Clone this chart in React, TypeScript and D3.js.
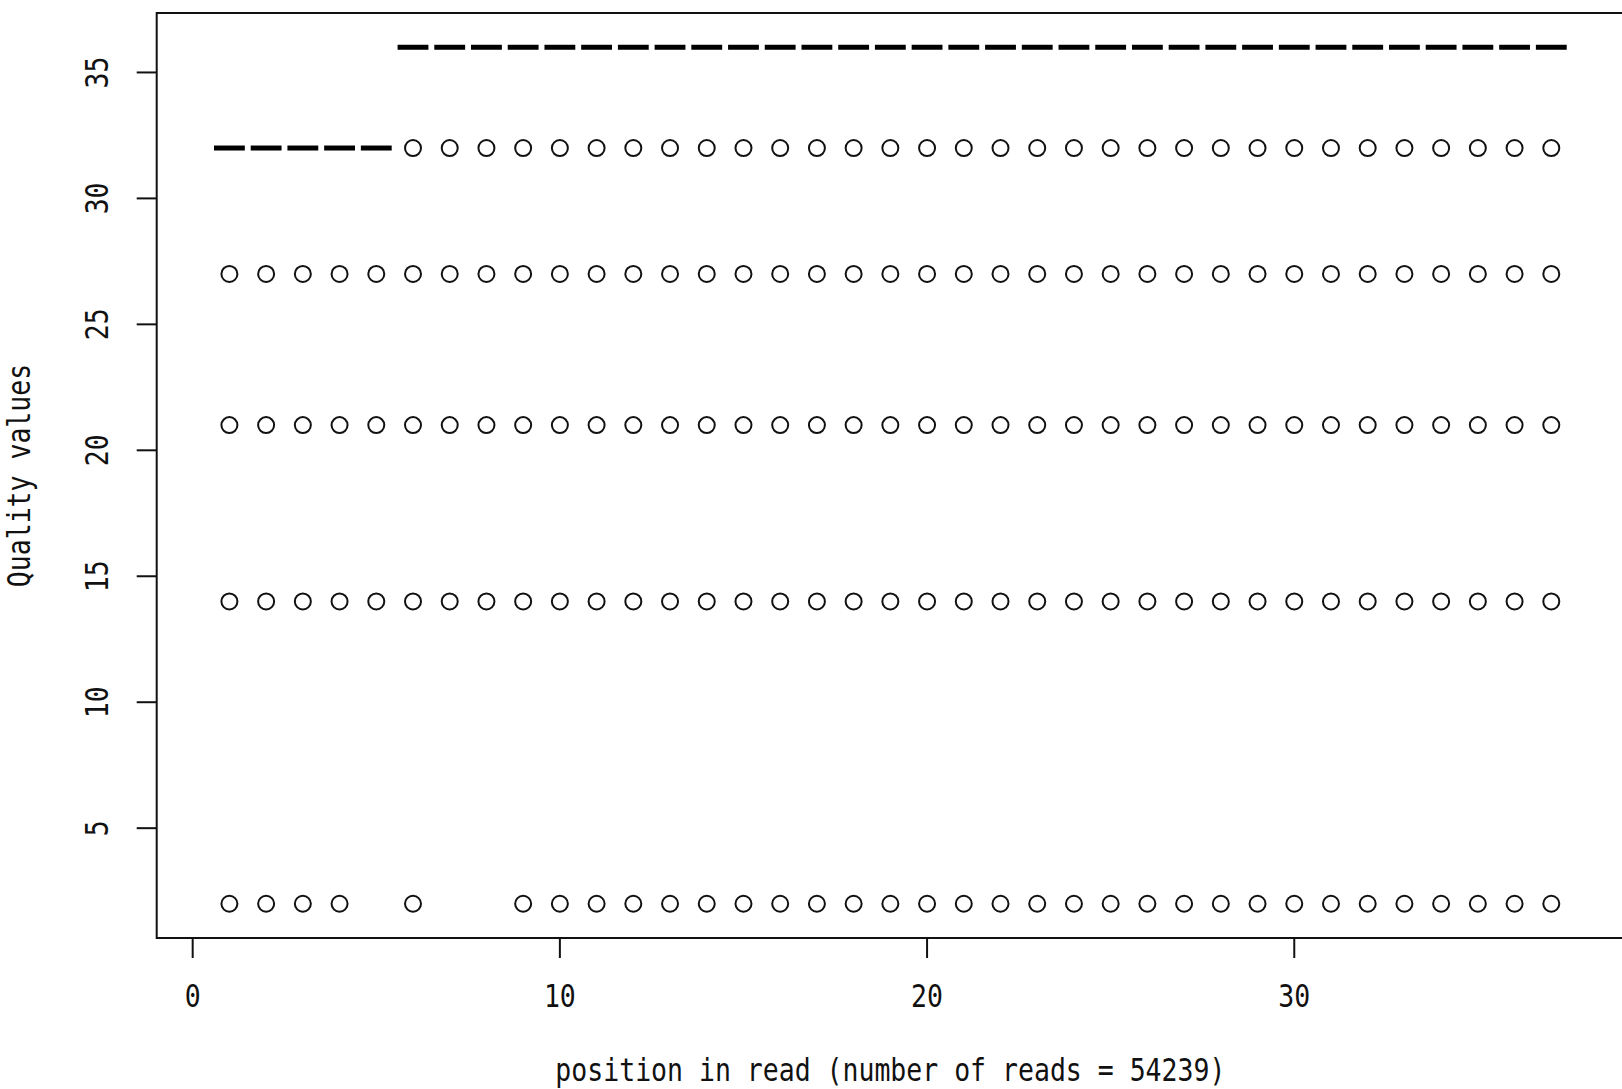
import React from "react";
import * as d3 from "d3";

// read positions (one box per position)
const positions = [
  1, 2, 3, 4, 5, 6, 7, 8, 9, 10, 11, 12, 13, 14, 15, 16, 17, 18, 19, 20,
  21, 22, 23, 24, 25, 26, 27, 28, 29, 30, 31, 32, 33, 34, 35, 36, 37,
];

// median quality per position (box collapsed onto the median)
const medians = [
  32, 32, 32, 32, 32, 36, 36, 36, 36, 36, 36, 36, 36, 36, 36, 36, 36, 36, 36, 36,
  36, 36, 36, 36, 36, 36, 36, 36, 36, 36, 36, 36, 36, 36, 36, 36, 36,
];

// outlier levels and the positions where each one shows up
const outlierLevels = [32, 27, 21, 14, 2];
const outlierPositions = [
  [6, 7, 8, 9, 10, 11, 12, 13, 14, 15, 16, 17, 18, 19, 20, 21, 22, 23, 24, 25, 26, 27, 28, 29, 30, 31, 32, 33, 34, 35, 36, 37],
  [1, 2, 3, 4, 5, 6, 7, 8, 9, 10, 11, 12, 13, 14, 15, 16, 17, 18, 19, 20, 21, 22, 23, 24, 25, 26, 27, 28, 29, 30, 31, 32, 33, 34, 35, 36, 37],
  [1, 2, 3, 4, 5, 6, 7, 8, 9, 10, 11, 12, 13, 14, 15, 16, 17, 18, 19, 20, 21, 22, 23, 24, 25, 26, 27, 28, 29, 30, 31, 32, 33, 34, 35, 36, 37],
  [1, 2, 3, 4, 5, 6, 7, 8, 9, 10, 11, 12, 13, 14, 15, 16, 17, 18, 19, 20, 21, 22, 23, 24, 25, 26, 27, 28, 29, 30, 31, 32, 33, 34, 35, 36, 37],
  [1, 2, 3, 4, 6, 9, 10, 11, 12, 13, 14, 15, 16, 17, 18, 19, 20, 21, 22, 23, 24, 25, 26, 27, 28, 29, 30, 31, 32, 33, 34, 35, 36, 37],
];

const xTicks = [0, 10, 20, 30];
const yTicks = [5, 10, 15, 20, 25, 30, 35];
const xLabel = "position in read (number of reads = 54239)";
const yLabel = "Quality values";

const W = 1622;
const H = 1089;
const font = "'DejaVu Sans Mono', 'Liberation Mono', monospace";
const fontSize = 26.5;

export default function App() {
  const x = d3.scaleLinear().domain([-0.98, 38.98]).range([156.7, 1624]);
  const y = d3.scaleLinear().domain([0.64, 37.36]).range([938, 13]);
  const [x0, x1] = x.range();
  const [yb, yt] = y.range();

  const points = outlierLevels.flatMap((lvl, i) =>
    outlierPositions[i].map((p) => ({ p, v: lvl }))
  );

  return (
    <svg
      width={W}
      height={H}
      style={{ position: "absolute", left: 0, top: 0, background: "#fff", display: "block" }}
    >
      <rect x={0} y={0} width={W} height={H} fill="#fff" />

      {/* medians */}
      {positions.map((p, i) => (
        <line
          key={"m" + p}
          x1={x(p - 0.42)}
          x2={x(p + 0.42)}
          y1={y(medians[i])}
          y2={y(medians[i])}
          stroke="#000"
          strokeWidth={5}
        />
      ))}

      {/* outliers */}
      {points.map((d, i) => (
        <circle
          key={"o" + i}
          cx={x(d.p)}
          cy={y(d.v)}
          r={8}
          fill="none"
          stroke="#111"
          strokeWidth={2}
        />
      ))}

      {/* frame */}
      <rect
        x={x0}
        y={yt}
        width={x1 - x0}
        height={yb - yt}
        fill="none"
        stroke="#111"
        strokeWidth={2}
      />

      {/* x axis */}
      {xTicks.map((t) => (
        <g key={"xt" + t}>
          <line x1={x(t)} x2={x(t)} y1={yb} y2={yb + 20} stroke="#111" strokeWidth={2} />
          <g transform={`translate(${x(t)},1007) scale(1,1.2)`}>
            <text textAnchor="middle" fontFamily={font} fontSize={fontSize} fill="#111">
              {t}
            </text>
          </g>
        </g>
      ))}

      {/* y axis */}
      {yTicks.map((t) => (
        <g key={"yt" + t}>
          <line x1={x0 - 20} x2={x0} y1={y(t)} y2={y(t)} stroke="#111" strokeWidth={2} />
          <g transform={`translate(108,${y(t)}) rotate(-90) scale(1,1.2)`}>
            <text textAnchor="middle" fontFamily={font} fontSize={fontSize} fill="#111">
              {t}
            </text>
          </g>
        </g>
      ))}

      {/* axis titles */}
      <g transform={`translate(${(x0 + x1) / 2},1081) scale(1,1.2)`}>
        <text textAnchor="middle" fontFamily={font} fontSize={fontSize} fill="#111">
          {xLabel}
        </text>
      </g>
      <g transform={`translate(30,${(yt + yb) / 2}) rotate(-90) scale(1,1.2)`}>
        <text textAnchor="middle" fontFamily={font} fontSize={fontSize} fill="#111">
          {yLabel}
        </text>
      </g>
    </svg>
  );
}
